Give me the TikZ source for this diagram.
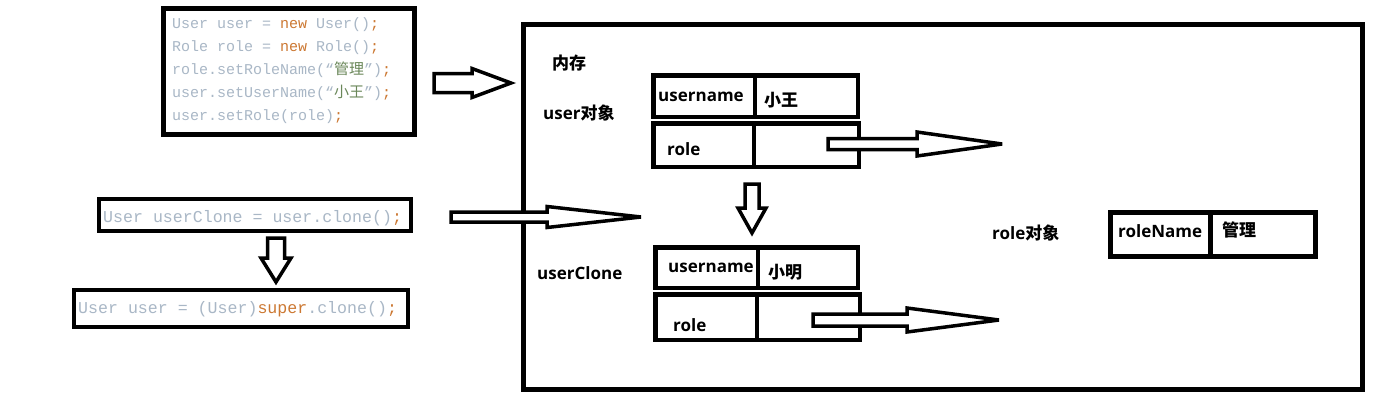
\documentclass[tikz,border=0pt]{standalone}
\usepackage{fontspec}
\setmainfont{Open Sans}
\setmonofont{Liberation Mono}
\newfontfamily\cjk{Noto Sans CJK SC}
\usepackage{tikz}
\usetikzlibrary{positioning, calc}

\definecolor{codegray}{HTML}{A9B7C6}
\definecolor{codeorange}{HTML}{CC7832}
\definecolor{codegreen}{HTML}{6A8759}

\tikzstyle{codebox} = [rectangle, draw=black, line width=4.5pt, fill=white]
\tikzstyle{codeline} = [anchor=base west, inner sep=0pt, text=codegray, 
font=\ttfamily\fontsize{15}{18}\selectfont]
\tikzstyle{codeline2} = [codeline, font=\ttfamily\fontsize{16.6}{20}\selectfont]
\tikzstyle{label} = [anchor=west, inner sep=0pt, 
font=\bfseries\fontsize{17}{20}\selectfont]
\tikzstyle{cell} = [draw=black, line width=4.5pt]
\tikzstyle{hollow} = [draw=black, line width=3.5pt, fill=white, line join=miter, 
miter limit=3]

% hollow arrow pointing right: start, tip, shaft half, head half, head length
\newcommand{\hollowright}[5]{%
  \draw[hollow] let \p1=(#1), \p2=(#2) in
    (\x1,\y2+#3pt) -- (\x2-#5pt,\y2+#3pt) -- (\x2-#5pt,\y2+#4pt) -- (\p2)
    -- (\x2-#5pt,\y2-#4pt) -- (\x2-#5pt,\y2-#3pt) -- (\x1,\y2-#3pt) -- cycle;}
% hollow arrow pointing down
\newcommand{\hollowdown}[5]{%
  \draw[hollow] let \p1=(#1), \p2=(#2) in
    (\x2-#3pt,\y1) -- (\x2-#3pt,\y2+#5pt) -- (\x2-#4pt,\y2+#5pt) -- (\p2)
    -- (\x2+#4pt,\y2+#5pt) -- (\x2+#3pt,\y2+#5pt) -- (\x2+#3pt,\y1) -- cycle;}

\begin{document}
\begin{tikzpicture}[x=1pt, y=-1pt]
\useasboundingbox (0,0) rectangle (1386,416);

% code on the left
\node (code) [codebox, minimum width=251, minimum height=126] at (289,71.5) {};
\node (c1) [codeline] at (172,28) {User user = \textcolor{codeorange}{new} User()\textcolor{codeorange}{;}};
\node (c2) [codeline] at (172,51) {Role role = \textcolor{codeorange}{new} Role()\textcolor{codeorange}{;}};
\node (c3) [codeline] at (172,74) {role.setRoleName(“\textcolor{codegreen}{\cjk 管理}”)\textcolor{codeorange}{;}};
\node (c4) [codeline] at (172,97) {user.setUserName(“\textcolor{codegreen}{\cjk 小王}”)\textcolor{codeorange}{;}};
\node (c5) [codeline] at (172,120) {user.setRole(role)\textcolor{codeorange}{;}};

\node (clone) [codebox, minimum width=312, minimum height=32] at (255,215) {};
\node (cl1) [codeline2] at (103,222) {User userClone = user.clone()\textcolor{codeorange}{;}};

\node (sup) [codebox, minimum width=334, minimum height=37] at (241,308.5) {};
\node (sp1) [codeline2] at (78,313) {User user = (User)\textcolor{codeorange}{super}.clone()\textcolor{codeorange}{;}};

% memory
\node (mem) [draw=black, line width=5pt, minimum width=839, minimum height=364.5, 
inner sep=0pt] at (943,206.75) {};
\node (memtitle) [label] at (552,63) {\cjk 内存};
\node (userobj) [label] at (543,113) {user{\cjk 对象}};
\node (cloneobj) [label] at (537,273) {userClone};
\node (roleobj) [label] at (992,233) {role{\cjk 对象}};

% user table
\draw [cell] (653.25,75.25) rectangle (857.75,116.75);
\draw [cell] (755,75.25) -- (755,116.75);
\draw [cell] (653.25,123.25) rectangle (858.75,166.75);
\draw [cell] (754,123.25) -- (754,166.75);
\node (u1name) [label] at (658,97) {username};
\node (u1val) [label] at (764,100) {\cjk 小王};
\node (u1role) [label] at (667,149) {role};

% userClone table
\draw [cell] (655.25,247.25) rectangle (857.75,287.75);
\draw [cell] (758,247.25) -- (758,287.75);
\draw [cell] (655.25,294.25) rectangle (859.75,339.75);
\draw [cell] (757,294.25) -- (757,339.75);
\node (u2name) [label] at (668,268) {username};
\node (u2val) [label] at (768,272) {\cjk 小明};
\node (u2role) [label] at (673,325) {role};

% role table
\draw [cell, line width=5pt] (1110.5,212.5) rectangle (1315.5,256.5);
\draw [cell, line width=5pt] (1210,212.5) -- (1210,256.5);
\node (rname) [label] at (1118,231) {roleName};
\node (rval) [label] at (1222,230) {\cjk 管理};

% arrows
\coordinate (a1s) at (434,83);   \coordinate (a1t) at (511,83);
\coordinate (a2s) at (451,217);  \coordinate (a2t) at (641,217);
\coordinate (a3s) at (828,144);  \coordinate (a3t) at (1002,144);
\coordinate (a4s) at (813,320);  \coordinate (a4t) at (999,320);
\coordinate (d1s) at (752,184);  \coordinate (d1t) at (752,233);
\coordinate (d2s) at (276,238);  \coordinate (d2t) at (276,282);

\hollowright{a1s}{a1t}{9.5}{14.5}{39}
\hollowright{a2s}{a2t}{5}{10.5}{94}
\hollowright{a3s}{a3t}{5.5}{12}{85}
\hollowright{a4s}{a4t}{6}{12}{92}
\hollowdown{d1s}{d1t}{7}{14}{25}
\hollowdown{d2s}{d2t}{8.5}{15}{24}

\end{tikzpicture}
\end{document}
